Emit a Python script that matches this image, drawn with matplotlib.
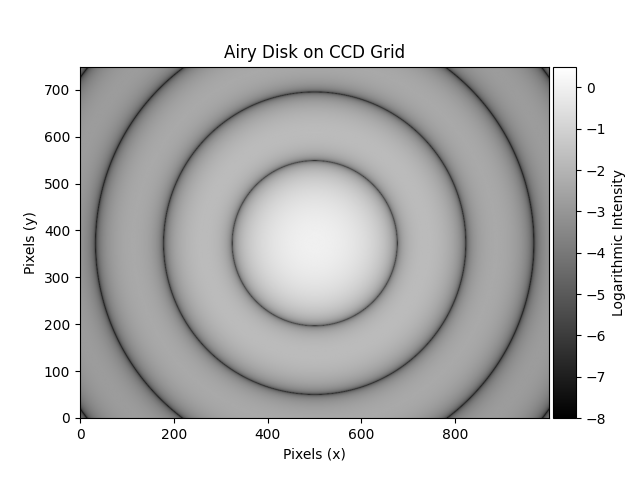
import numpy as np
import matplotlib
matplotlib.use("Agg")
import matplotlib.pyplot as plt
from mpl_toolkits.axes_grid1 import make_axes_locatable

# CCD grid and Airy pattern parameters
nx, ny = 1000, 750
center_x, center_y = 500, 372
first_zero_px = 176.0          # radius of first dark ring in pixels
vmin, vmax = -8, 0.5


def bessel_j1(x):
    # J1(x) = 1/pi * int_0^pi cos(t - x sin t) dt
    t = np.linspace(0, np.pi, 801)
    vals = np.cos(t[None, :] - x[:, None] * np.sin(t[None, :]))
    return np.trapezoid(vals, t, axis=1) / np.pi


r_max = np.hypot(max(center_x, nx - center_x), max(center_y, ny - center_y)) + 2
r_1d = np.linspace(1e-6, r_max, 20000)
k = 3.8317 / first_zero_px
u = k * r_1d
intensity_1d = (2 * bessel_j1(u) / u) ** 2

yy, xx = np.mgrid[0:ny, 0:nx]
r = np.hypot(xx - center_x, yy - center_y)
intensity = np.interp(r, r_1d, intensity_1d)
log_i = np.log10(np.clip(intensity, 1e-12, None))

fig, ax = plt.subplots(figsize=(6.4, 4.8))
fig.subplots_adjust(left=0.125, right=0.9, top=0.88, bottom=0.11)
im = ax.imshow(log_i, cmap="gray", origin="lower", vmin=vmin, vmax=vmax,
               aspect="equal")
divider = make_axes_locatable(ax)
cax = divider.append_axes("right", size="5%", pad=0.04)
cb = fig.colorbar(im, cax=cax)
cb.set_label("Logarithmic Intensity")
ax.set_title("Airy Disk on CCD Grid")
ax.set_xlabel("Pixels (x)")
ax.set_ylabel("Pixels (y)")
fig.savefig("out.png", dpi=100)
